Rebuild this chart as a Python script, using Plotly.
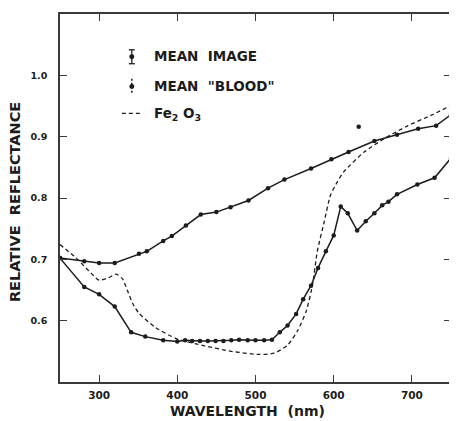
import plotly.graph_objects as go

# Mean image
wl_image = [250, 281, 300, 320, 351, 361, 382, 393, 411, 430, 450, 468, 491, 516, 537, 571, 597, 619, 652, 681, 708, 731, 750]
r_image = [0.702, 0.697, 0.694, 0.694, 0.709, 0.713, 0.730, 0.738, 0.755, 0.773, 0.777, 0.785, 0.796, 0.816,
           0.830, 0.848, 0.863, 0.875, 0.893, 0.903, 0.913, 0.918, 0.936]

# Mean "blood"
wl_blood = [250, 281, 300, 320, 341, 359, 382, 400, 410, 419, 429, 439, 449, 459, 469, 479, 490, 500, 511, 521,
            531, 541, 552, 561, 571, 580, 590, 600, 609, 618, 630, 641, 652, 662, 670, 681, 707, 729, 750]
r_blood = [0.702, 0.655, 0.643, 0.623, 0.581, 0.574, 0.568, 0.566, 0.568, 0.567, 0.567, 0.567, 0.567, 0.567,
           0.568, 0.569, 0.568, 0.568, 0.568, 0.569, 0.581, 0.592, 0.611, 0.635, 0.657, 0.686, 0.713, 0.739,
           0.786, 0.775, 0.747, 0.762, 0.775, 0.788, 0.794, 0.806, 0.822, 0.833, 0.865]

# Fe2O3
wl_fe = [250, 270, 287, 300, 312, 322, 330, 336, 343, 351, 372, 400, 435, 469, 503, 524, 541, 554, 565, 573,
         579, 588, 596, 605, 613, 639, 665, 695, 725, 750]
r_fe = [0.724, 0.703, 0.681, 0.666, 0.670, 0.676, 0.668, 0.650, 0.628, 0.612, 0.589, 0.570, 0.559, 0.550,
        0.545, 0.547, 0.560, 0.584, 0.616, 0.659, 0.713, 0.762, 0.805, 0.827, 0.843, 0.875, 0.897, 0.918,
        0.935, 0.951]

# isolated point seen on the plot
wl_stray = [632]
r_stray = [0.916]

x_ticks = [300, 400, 500, 600, 700]
x_ticklabels = ["300", "400", "500", "600", "700"]
y_ticks = [0.6, 0.7, 0.8, 0.9, 1.0]
y_ticklabels = ["0.6", "0.7", "0.8", "0.9", "1.0"]

INK = "#1c1c1c"
FONT = "DejaVu Sans"

fig = go.Figure()
fig.add_trace(go.Scatter(x=wl_fe, y=r_fe, mode="lines", line=dict(color=INK, width=1.3, dash="4px,3px", shape="spline", smoothing=0.6),
                         showlegend=False))
fig.add_trace(go.Scatter(x=wl_image, y=r_image, mode="lines+markers", line=dict(color=INK, width=1.5),
                         marker=dict(color=INK, size=4.5), showlegend=False))
fig.add_trace(go.Scatter(x=wl_blood, y=r_blood, mode="lines+markers", line=dict(color=INK, width=1.5),
                         marker=dict(color=INK, size=4.5), showlegend=False))
fig.add_trace(go.Scatter(x=wl_stray, y=r_stray, mode="markers", marker=dict(color=INK, size=4.5), showlegend=False))

# page pixel -> paper coords (plot area spans x 60..452, y 12..382 on the page)
def px2paper(px, py):
    return (px - 60) / 392.0, (382 - py) / 370.0

shapes = []
# legend glyph 1: error bar with dot
x0, y0 = px2paper(132, 48)
_, y1 = px2paper(132, 62)
_, ym = px2paper(132, 55)
cw = 3 / 392.0
shapes.append(dict(type="line", xref="paper", yref="paper", x0=x0, x1=x0, y0=y0, y1=y1, line=dict(color=INK, width=1.3)))
shapes.append(dict(type="line", xref="paper", yref="paper", x0=x0 - cw, x1=x0 + cw, y0=y0, y1=y0, line=dict(color=INK, width=1.3)))
shapes.append(dict(type="line", xref="paper", yref="paper", x0=x0 - cw, x1=x0 + cw, y0=y1, y1=y1, line=dict(color=INK, width=1.3)))
shapes.append(dict(type="circle", xref="paper", yref="paper", x0=x0 - 2.5 / 392, x1=x0 + 2.5 / 392,
                   y0=ym - 2.5 / 370, y1=ym + 2.5 / 370, fillcolor=INK, line=dict(color=INK, width=0)))
# legend glyph 2: dotted bar with dot
x0, y0 = px2paper(132, 77)
_, y1 = px2paper(132, 93)
_, ym = px2paper(132, 85)
shapes.append(dict(type="line", xref="paper", yref="paper", x0=x0, x1=x0, y0=y0, y1=y1, line=dict(color=INK, width=1.5, dash="2px,2px")))
shapes.append(dict(type="circle", xref="paper", yref="paper", x0=x0 - 2.5 / 392, x1=x0 + 2.5 / 392,
                   y0=ym - 2.5 / 370, y1=ym + 2.5 / 370, fillcolor=INK, line=dict(color=INK, width=0)))
# legend glyph 3: dashes
xa, ya = px2paper(122, 112)
xb, _ = px2paper(143, 112)
shapes.append(dict(type="line", xref="paper", yref="paper", x0=xa, x1=xb, y0=ya, y1=ya, line=dict(color=INK, width=1.3, dash="4px,3px")))

annotations = []
for txt, py in [("<b>MEAN  IMAGE</b>", 54), ("<b>MEAN  \"BLOOD\"</b>", 84), ("<b>Fe<sub>2</sub> O<sub>3</sub></b>", 113)]:
    ax, ay = px2paper(152, py)
    annotations.append(dict(text=txt, xref="paper", yref="paper", x=ax, y=ay, xanchor="left", yanchor="middle",
                            showarrow=False, font=dict(family=FONT, size=13.5, color=INK)))
ax, ay = px2paper(15, 201)
annotations.append(dict(text="<b>RELATIVE  REFLECTANCE</b>", xref="paper", yref="paper", x=ax, y=ay, textangle=-90,
                        xanchor="center", yanchor="middle", showarrow=False, font=dict(family=FONT, size=14.5, color=INK)))
ax, ay = px2paper(248, 411)
annotations.append(dict(text="<b>WAVELENGTH  (nm)</b>", xref="paper", yref="paper", x=ax, y=ay,
                        xanchor="center", yanchor="middle", showarrow=False, font=dict(family=FONT, size=14, color=INK)))

axis_common = dict(showgrid=False, zeroline=False, showline=True, linecolor="#3a3a3a", linewidth=1.5,
                   mirror="ticks", ticks="inside", ticklen=7, tickcolor="#3a3a3a", tickwidth=1.3)

# the page body has an 8px margin, so the figure is 449x413 and placed at (8, 8)
fig.update_layout(
    width=449, height=413,
    margin=dict(l=52, r=5, t=4, b=39),
    paper_bgcolor="white", plot_bgcolor="white",
    xaxis=dict(range=[250, 750], tickvals=x_ticks, ticktext=["<b>%s</b>" % t for t in x_ticklabels],
               ticklabelstandoff=3, tickfont=dict(family=FONT, size=10.5, color=INK), **axis_common),
    yaxis=dict(range=[0.5, 1.1], tickvals=y_ticks, ticktext=["<b>%s</b>" % t for t in y_ticklabels],
               ticklabelstandoff=9, tickfont=dict(family=FONT, size=9.5, color=INK), **axis_common),
    shapes=shapes, annotations=annotations, showlegend=False,
)

fig.write_html("out.html")
